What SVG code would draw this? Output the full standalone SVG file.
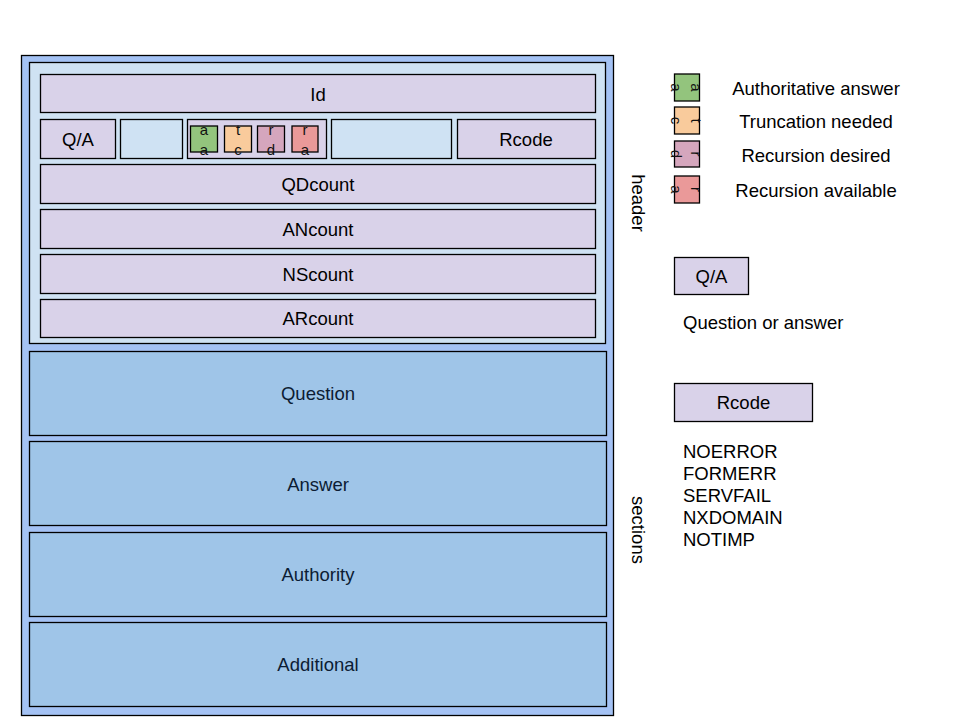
<svg xmlns="http://www.w3.org/2000/svg" width="960" height="720" viewBox="0 0 960 720">
<style>
  text { font-family: "Liberation Sans", Arial, sans-serif; font-size: 18.5px; fill: #000; }
  .c { text-anchor: middle; }
  .box { stroke: #000; stroke-width: 1.3; }
  .outer { fill: #a4c2f4; }
  .hdr { fill: #cfe2f3; }
  .fld { fill: #d9d2e9; }
  .sec { fill: #9fc5e8; }
  .sectxt { fill: #0c1c33; }
  .fl { font-size: 15px; text-anchor: middle; fill: #111; }
  .aa { fill: #93c47d; }
  .tc { fill: #f9cb9c; }
  .rd { fill: #d5a6bd; }
  .ra { fill: #ea9999; }
</style>
<rect width="960" height="720" fill="#fff"/>

<g id="message">
  <rect class="box outer" x="21.5" y="55.5" width="592" height="660"/>
</g>

<g id="header">
  <rect class="box hdr" x="29.5" y="62.5" width="576" height="281"/>
</g>

<g id="id-field">
  <rect class="box fld" x="40.5" y="74.5" width="555" height="38"/>
  <text class="c" x="318" y="100.5">Id</text>
</g>

<g id="qa-field">
  <rect class="box fld" x="40.5" y="119.5" width="75" height="39"/>
  <text class="c" x="78" y="145.5">Q/A</text>
</g>

<g id="blank-1">
  <rect class="box hdr" x="120.5" y="119.5" width="62" height="39"/>
</g>

<g id="flags">
  <rect class="box fld" x="187.5" y="119.5" width="139" height="39"/>
  <g transform="translate(203.5,139)">
    <rect class="box aa" x="-13" y="-13" width="27" height="26"/>
    <text class="fl" x="0.5" y="-4.5">a</text>
    <text class="fl" x="0.5" y="16">a</text>
  </g>
  <g transform="translate(238,139)">
    <rect class="box tc" x="-13.5" y="-13" width="27" height="26"/>
    <text class="fl" x="0" y="-4.5">t</text>
    <text class="fl" x="0" y="16">c</text>
  </g>
  <g transform="translate(270.5,139)">
    <rect class="box rd" x="-13" y="-13" width="27" height="26"/>
    <text class="fl" x="0.5" y="-4.5">r</text>
    <text class="fl" x="0.5" y="16">d</text>
  </g>
  <g transform="translate(305,139)">
    <rect class="box ra" x="-13" y="-13" width="26" height="26"/>
    <text class="fl" x="0" y="-4.5">r</text>
    <text class="fl" x="0" y="16">a</text>
  </g>
</g>

<g id="blank-2">
  <rect class="box hdr" x="331.5" y="119.5" width="120" height="39"/>
</g>

<g id="rcode-field">
  <rect class="box fld" x="457.5" y="119.5" width="138" height="39"/>
  <text class="c" x="526" y="145.5">Rcode</text>
</g>

<g id="qdcount">
  <rect class="box fld" x="40.5" y="164.5" width="555" height="39"/>
  <text class="c" x="318" y="190.5">QDcount</text>
</g>
<g id="ancount">
  <rect class="box fld" x="40.5" y="209.5" width="555" height="39"/>
  <text class="c" x="318" y="235.5">ANcount</text>
</g>
<g id="nscount">
  <rect class="box fld" x="40.5" y="254.5" width="555" height="39"/>
  <text class="c" x="318" y="280.5">NScount</text>
</g>
<g id="arcount">
  <rect class="box fld" x="40.5" y="299.5" width="555" height="38"/>
  <text class="c" x="318" y="325">ARcount</text>
</g>

<g id="question">
  <rect class="box sec" x="29.5" y="351.5" width="577" height="84"/>
  <text class="c sectxt" x="318" y="400">Question</text>
</g>
<g id="answer">
  <rect class="box sec" x="29.5" y="441.5" width="577" height="84"/>
  <text class="c sectxt" x="318" y="490.5">Answer</text>
</g>
<g id="authority">
  <rect class="box sec" x="29.5" y="532.5" width="577" height="84"/>
  <text class="c sectxt" x="318" y="581">Authority</text>
</g>
<g id="additional">
  <rect class="box sec" x="29.5" y="622.5" width="577" height="84"/>
  <text class="c sectxt" x="318" y="671">Additional</text>
</g>

<g id="label-header">
  <text class="c" transform="translate(637.5,203) rotate(90)" x="0" y="6">header</text>
</g>
<g id="label-sections">
  <text class="c" transform="translate(637.5,530) rotate(90)" x="0" y="6">sections</text>
</g>

<g id="legend-flags">
  <g transform="translate(686.5,87.5) rotate(90)">
    <rect class="box aa" x="-13.5" y="-13" width="27" height="25"/>
    <text class="fl" x="0" y="-4.5">a</text>
    <text class="fl" x="0" y="16">a</text>
  </g>
  <text class="c" x="816" y="94.5">Authoritative answer</text>
  <g transform="translate(686.5,120.5) rotate(90)">
    <rect class="box tc" x="-13.5" y="-13" width="27" height="25"/>
    <text class="fl" x="0" y="-4.5">t</text>
    <text class="fl" x="0" y="16">c</text>
  </g>
  <text class="c" x="816" y="128">Truncation needed</text>
  <g transform="translate(686.5,154) rotate(90)">
    <rect class="box rd" x="-13" y="-13" width="26" height="25"/>
    <text class="fl" x="0" y="-4.5">r</text>
    <text class="fl" x="0" y="16">d</text>
  </g>
  <text class="c" x="816" y="161.5">Recursion desired</text>
  <g transform="translate(686.5,189.5) rotate(90)">
    <rect class="box ra" x="-13.5" y="-13" width="27" height="25"/>
    <text class="fl" x="0" y="-4.5">r</text>
    <text class="fl" x="0" y="16">a</text>
  </g>
  <text class="c" x="816" y="196.5">Recursion available</text>
</g>

<g id="legend-qa">
  <rect class="box fld" x="674.5" y="257.5" width="74" height="37"/>
  <text class="c" x="711.5" y="282.5">Q/A</text>
  <text x="683" y="328.5">Question or answer</text>
</g>

<g id="legend-rcode">
  <rect class="box fld" x="674.5" y="383.5" width="138" height="38"/>
  <text class="c" x="743.5" y="409">Rcode</text>
  <text x="683" y="457.5">NOERROR</text>
  <text x="683" y="479.5">FORMERR</text>
  <text x="683" y="501.5">SERVFAIL</text>
  <text x="683" y="523.5">NXDOMAIN</text>
  <text x="683" y="545.5">NOTIMP</text>
</g>

<g id="connectors"></g>
</svg>
